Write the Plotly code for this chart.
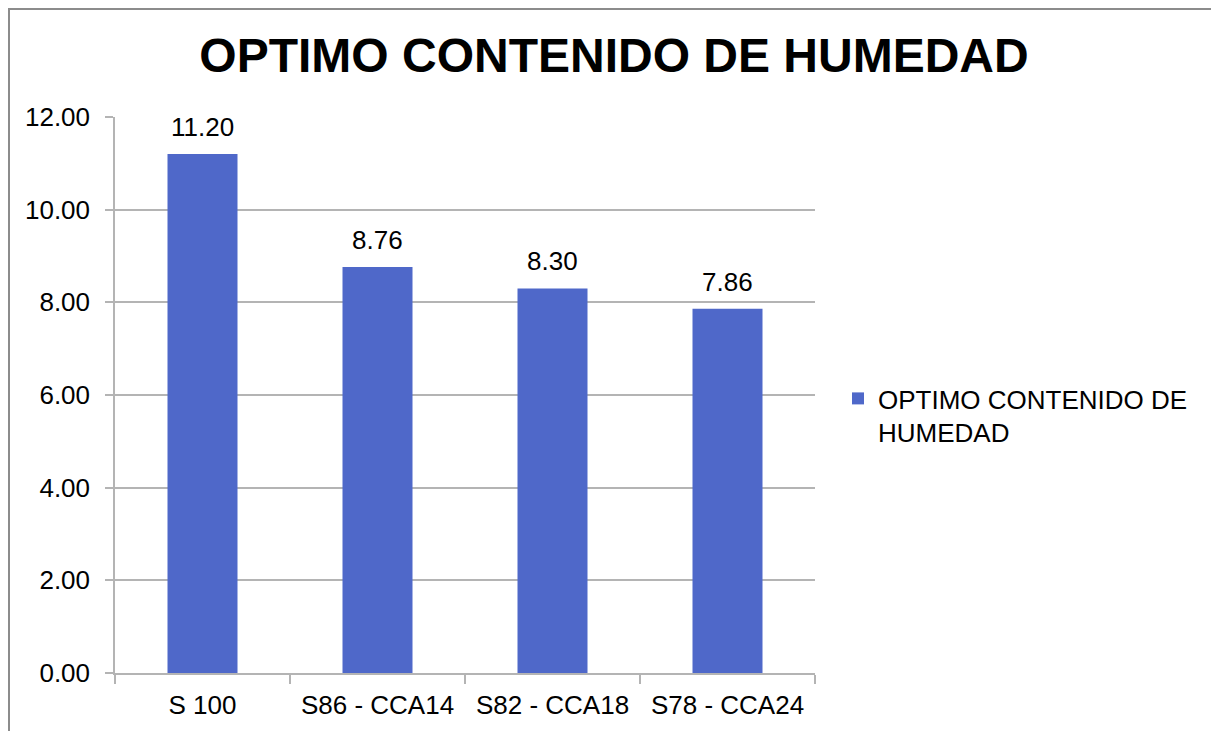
import plotly.graph_objects as go

# data
categories = ['S 100', 'S86 - CCA14', 'S82 - CCA18', 'S78 - CCA24']
humedad = [11.20, 8.76, 8.30, 7.86]
y_ticks = [0, 2, 4, 6, 8, 10, 12]
series_name = 'OPTIMO CONTENIDO DE<br>HUMEDAD'

# page body has an 8px margin, so the figure is a bit smaller than the window
W, H = 1211, 723
L, R, T, B = 107, 404, 109, 58
bar_color = '#4F68C9'
grid_color = '#B4B4B4'
font_family = 'Liberation Sans, Arial, sans-serif'
fsize = 26

fig = go.Figure()

fig.add_trace(go.Bar(
    x=categories,
    y=humedad,
    name=series_name,
    marker=dict(color=bar_color, line=dict(width=0)),
    showlegend=True
))

# value labels above each bar
for cat, val in zip(categories, humedad):
    fig.add_annotation(
        x=cat, y=val, text=f'{val:.2f}',
        showarrow=False, yanchor='bottom', yshift=10,
        font=dict(size=fsize, color='black', family=font_family)
    )

# outer chart border (right and bottom edges fall outside the page)
pw = W - L - R
ph = H - T - B
fig.add_shape(
    type='rect', xref='paper', yref='paper',
    x0=(1 - L) / pw, x1=(W + 20 - L) / pw,
    y0=-(B + 20) / ph, y1=1 + (T - 1) / ph,
    line=dict(color='#8C8C8C', width=2), layer='below'
)

fig.update_layout(
    width=W, height=H,
    title=dict(
        text='<b>OPTIMO CONTENIDO DE HUMEDAD</b>',
        x=0.5004, xref='container', xanchor='center',
        y=1 - 47 / H, yref='container', yanchor='middle',
        font=dict(size=48, color='black', family=font_family)
    ),
    font=dict(family=font_family, size=fsize, color='black'),
    plot_bgcolor='white',
    paper_bgcolor='white',
    bargap=0.6,
    margin=dict(l=L, r=R, t=T, b=B, pad=0),
    xaxis=dict(
        showgrid=False,
        showline=True, linecolor=grid_color, linewidth=1.5,
        ticks='outside', tickson='boundaries', ticklen=9,
        tickcolor=grid_color, tickwidth=1.5,
        ticklabelstandoff=8,
        tickfont=dict(size=fsize, color='black')
    ),
    yaxis=dict(
        range=[0, 12],
        tickvals=y_ticks,
        tickformat='.2f',
        showgrid=True, gridcolor=grid_color, gridwidth=1.5,
        showline=True, linecolor=grid_color, linewidth=1.5,
        zeroline=False,
        ticks='outside', ticklen=8, tickcolor=grid_color, tickwidth=1.5,
        ticklabelstandoff=10,
        tickfont=dict(size=fsize, color='black')
    ),
    legend=dict(
        x=(830 - L) / pw, xanchor='left',
        y=(H - B - 367) / ph, yanchor='top',
        valign='top',
        font=dict(size=fsize, color='black'),
        bgcolor='rgba(0,0,0,0)'
    )
)

fig.write_html('out.html')
